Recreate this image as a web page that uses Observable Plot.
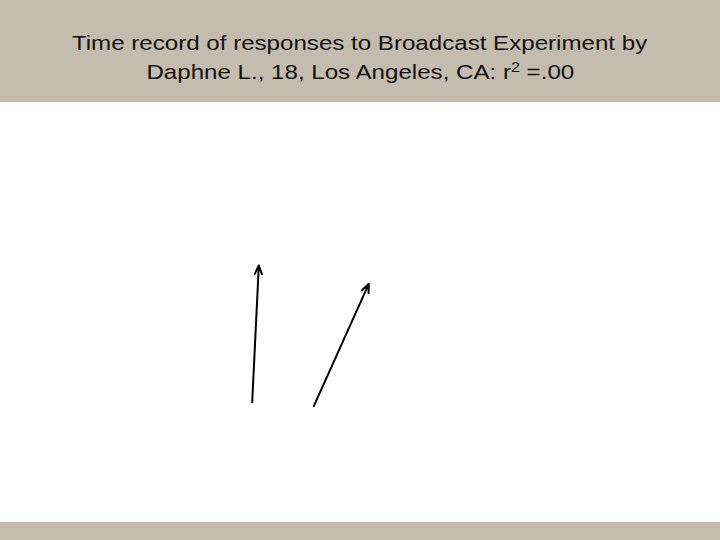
<!DOCTYPE html>
<html>
<head>
<meta charset="utf-8">
<script src="https://cdn.jsdelivr.net/npm/d3@7"></script>
<script src="https://cdn.jsdelivr.net/npm/@observablehq/plot@0.6"></script>
<style>
  html, body { margin: 0; padding: 0; background: #ffffff; width: 720px; height: 540px; overflow: hidden; }
  #header { background: #c4bcad; height: 102px; box-sizing: border-box; padding-top: 28px;
    font-family: "Liberation Sans", Arial, sans-serif; font-size: 21px; line-height: 29px;
    color: #111; text-align: center; }
  #header .ln { display: inline-block; transform: scaleX(1.148); white-space: nowrap; }
  #header sup { font-size: 14px; vertical-align: 0; position: relative; top: -7px; line-height: 0; }
  #chart { height: 420px; }
  #footer { background: #c4bcad; height: 18px; }
</style>
</head>
<body>
<div id="header"><span class="ln">Time record of responses to Broadcast Experiment by</span><br><span class="ln">Daphne L., 18, Los Angeles, CA: r<sup>2</sup> =.00</span></div>
<div id="chart"></div>
<div id="footer"></div>
<script>
// Response arrows: start and end positions (plot units, y measured up from bottom)
const startX = [251.7, 313.3];
const startY = [120.3, 116.3];
const endX = [258.3, 368.3];
const endY = [257.0, 238.7];

const arrows = startX.map((d, i) => ({x1: d, y1: startY[i], x2: endX[i], y2: endY[i]}));

const plot = Plot.plot({
  width: 720,
  height: 420,
  margin: 0,
  x: {domain: [0, 720], axis: null},
  y: {domain: [0, 420], axis: null},
  style: {background: "#ffffff", overflow: "visible"},
  marks: [
    Plot.arrow(arrows, {
      x1: "x1", y1: "y1", x2: "x2", y2: "y2",
      stroke: "#000000", strokeWidth: 2, headLength: 7, headAngle: 45
    })
  ]
});
document.getElementById("chart").appendChild(plot);
</script>
</body>
</html>
